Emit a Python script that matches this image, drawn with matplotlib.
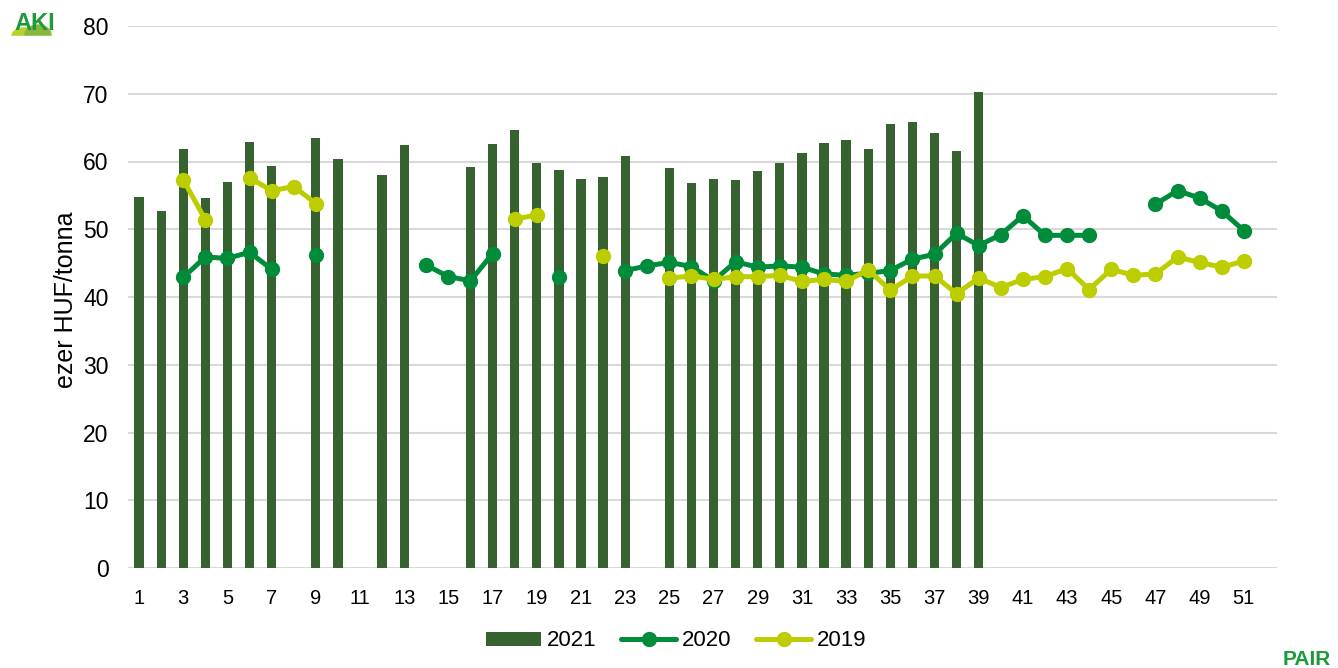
import numpy as np
import matplotlib.pyplot as plt
from matplotlib.patches import Ellipse, Rectangle

plt.rcParams['font.family'] = ['Liberation Sans', 'DejaVu Sans']

weeks = np.arange(1, 53)
nan = np.nan

# 2021 weekly price (ezer HUF/tonna), weeks 1-39
price_2021 = [54.8, 52.7, 61.8, 54.6, 57.0, 62.9, 59.4, nan, 63.5, 60.4,
              nan, 58.0, 62.4, nan, nan, 59.2, 62.6, 64.7, 59.8, 58.7,
              57.4, 57.7, 60.8, nan, 59.0, 56.9, 57.4, 57.3, 58.6, 59.8,
              61.2, 62.7, 63.1, 61.9, 65.6, 65.8, 64.2, 61.5, 70.2]

price_2020 = [nan, nan, 42.9, 45.9, 45.7, 46.6, 44.1, nan, 46.2, nan,
              nan, nan, nan, 44.7, 43.0, 42.4, 46.4, nan, nan, 43.0,
              nan, nan, 43.9, 44.6, 45.1, 44.5, 42.4, 45.2, 44.4, 44.6,
              44.4, 43.4, 43.2, 43.5, 43.9, 45.6, 46.3, 49.4, 47.6, 49.2,
              52.0, 49.1, 49.1, 49.1, nan, nan, 53.7, 55.7, 54.6, 52.7,
              49.8, nan]

price_2019 = [nan, nan, 57.3, 51.4, nan, 57.6, 55.7, 56.3, 53.8, nan,
              nan, nan, nan, nan, nan, nan, nan, 51.5, 52.1, nan,
              nan, 46.1, nan, nan, 42.8, 43.1, 42.6, 43.0, 43.0, 43.2,
              42.3, 42.6, 42.3, 44.0, 41.0, 43.1, 43.1, 40.5, 42.8, 41.4,
              42.6, 43.0, 44.2, 41.1, 44.1, 43.2, 43.4, 45.9, 45.1, 44.4,
              45.3, nan]

c_bar = '#35622f'
c_2020 = '#008c3a'
c_2019 = '#bccd00'

fig = plt.figure(figsize=(13.38, 6.68), dpi=100)
ax = fig.add_axes([128 / 1338, 100 / 668, 1149 / 1338, 542 / 668])

bars = ax.bar(weeks[:len(price_2021)], price_2021, width=0.42, color=c_bar, label='2021', zorder=2)
l20, = ax.plot(weeks, price_2020, color=c_2020, lw=3.6, marker='o', ms=10,
               solid_capstyle='round', label='2020', zorder=3)
l19, = ax.plot(weeks, price_2019, color=c_2019, lw=3.6, marker='o', ms=10,
               solid_capstyle='round', label='2019', zorder=4)

ax.set_xlim(0.5, 52.5)
ax.set_ylim(0, 80)
ax.set_yticks(range(0, 81, 10))
ax.set_xticks(range(1, 52, 2))
ax.tick_params(axis='y', length=0, labelsize=16.5, pad=14)
ax.tick_params(axis='x', length=0, labelsize=14.5, pad=15)
ax.grid(axis='y', color='#d9d9d9', lw=1.5, zorder=0)
ax.set_axisbelow(True)
for s in ax.spines.values():
    s.set_visible(False)
ax.set_ylabel('ezer HUF/tonna', fontsize=18)
ax.yaxis.set_label_coords(-0.0435, 0.495)

fig.legend([bars, l20, l19], ['2021', '2020', '2019'], loc='center',
           bbox_to_anchor=(676 / 1338, 1 - 641 / 668), ncol=3, frameon=False,
           fontsize=16, handlelength=2.5, handleheight=0.6, columnspacing=1.1,
           handletextpad=0.25)

# logos
logo = fig.add_axes([0, 1 - 42 / 668, 62 / 1338, 42 / 668])
logo.set_xlim(0, 62)
logo.set_ylim(42, 0)
logo.axis('off')
logo.add_patch(Ellipse((24, 36), 24, 16, color='#b8d12c', zorder=1))
logo.add_patch(Ellipse((38, 35), 26, 20, color='#86b83c', zorder=1))
logo.add_patch(Rectangle((0, 36), 62, 6, color='white', zorder=2))
logo.text(35, 30, 'AKI', ha='center', va='baseline', fontsize=17, fontweight='bold',
          color='#1f9a3a', zorder=3)
fig.text(1283 / 1338, 1 - 665 / 668, 'PAIR', fontsize=15, fontweight='bold', color='#1a9c3a')

fig.savefig('out.png', dpi=100)
